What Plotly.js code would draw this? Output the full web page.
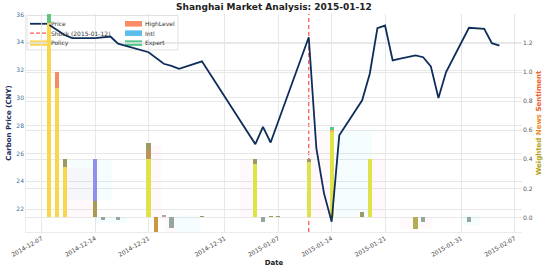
<!DOCTYPE html>
<html><head><meta charset="utf-8">
<script src="https://cdn.plot.ly/plotly-3.0.1.min.js"></script>
<style>html,body{margin:0;padding:0;background:#fff}#chart{width:550px;height:271px}</style>
</head><body><div id="chart"></div>
<script>
// ---------------- data ----------------
const priceDates = ['2014-12-09','2014-12-10','2014-12-11','2014-12-12','2014-12-15','2014-12-17','2014-12-18','2014-12-22','2014-12-24','2014-12-25','2014-12-26','2014-12-29','2015-01-05','2015-01-06','2015-01-07','2015-01-12','2015-01-13','2015-01-14','2015-01-15','2015-01-16','2015-01-19','2015-01-20','2015-01-21','2015-01-22','2015-01-23','2015-01-24','2015-01-25','2015-01-26','2015-01-27','2015-01-28','2015-01-29','2015-01-30','2015-02-02','2015-02-03','2015-02-04','2015-02-05','2015-02-06'];
const priceValues = [35.25,34.92,34.53,34.31,34.31,34.42,33.90,33.29,32.46,32.30,32.10,32.63,26.67,27.91,26.79,34.37,26.36,23.13,21.09,27.31,29.83,31.74,35.02,35.21,32.70,32.82,32.95,33.06,32.93,32.27,29.99,31.86,35.05,35.03,34.97,33.94,33.77];

const barDates = ['2014-12-09','2014-12-10','2014-12-11','2014-12-12','2014-12-15','2014-12-16','2014-12-17','2014-12-18','2014-12-22','2014-12-23','2014-12-24','2014-12-25','2014-12-29','2015-01-05','2015-01-06','2015-01-07','2015-01-08','2015-01-12','2015-01-15','2015-01-16','2015-01-19','2015-01-20','2015-01-21','2015-01-26','2015-01-27','2015-02-02'];
const policy    = [1.34,0.89,0.35,0,0,0,0,0,0.40,0,0,0,0,0.37,0,0,0,0.385,0.59,0,0,0.40,0,-0.08,0,0];
const highLevel = [0,0.11,0,0,0.11,0,0,0,0.07,-0.12,0,0,0,0,0,0,0,0,0.01,0,0,0,0,0,0,0];
const intl      = [0,0,0,0,0.29,0,0,0,0,0,0.02,0,0,0,0,0,0,0,0,0,0,0,0,0,0,0];
const expert    = [0.08,0,0.05,0.004,0,-0.02,0.005,-0.015,0.04,0,0,-0.07,0.01,0.03,-0.03,0.01,0.01,0.015,0.02,0.004,0.035,0,0.005,0,-0.03,-0.03];

// faint event-window shading (sentiment ranges)
const windowStart = ['2014-12-11T07:00','2014-12-11T01:00','2014-12-14T23:00','2014-12-21T22:00','2014-12-24T04:00','2014-12-25T18:00','2015-01-03T00:00','2015-01-12T04:00','2015-01-15T11:00','2015-01-20T07:00','2015-01-23T23:00','2015-02-01T02:00'];
const windowEnd   = ['2014-12-17T04:00','2014-12-15T06:00','2014-12-19T04:00','2014-12-23T18:00','2014-12-25T18:00','2014-12-28T18:00','2015-01-05T02:00','2015-01-14T19:00','2015-01-20T07:00','2015-01-22T00:00','2015-01-28T04:00','2015-02-03T11:00'];
const windowLow   = [0.12,0,-0.04,0,-0.1,-0.1,0,0,0,0,-0.08,-0.05];
const windowHigh  = [0.395,0.34,0,0.5,0,0.02,0.4,0.59,0.6,0.4,0,0.02];
const windowKind  = ['Intl','HighLevel','Intl','HighLevel','HighLevel','Intl','HighLevel','HighLevel','Intl','HighLevel','HighLevel','Intl'];

const shockDate = '2015-01-12';
const tickDates = ['2014-12-08','2014-12-15','2014-12-22','2015-01-01','2015-01-08','2015-01-15','2015-01-22','2015-02-01','2015-02-08'];
const tickLabels = ['2014-12-07','2014-12-14','2014-12-21','2014-12-31','2015-01-07','2015-01-14','2015-01-21','2015-01-31','2015-02-07'];
const priceTicks = [22,24,26,28,30,32,34,36];
const sentTicks = [0,0.2,0.4,0.6,0.8,1.0,1.2];
const legendLabels = [['Price','Shock (2015-01-12)','Policy'],['HighLevel','Intl','Expert']];

// ---------------- styles ----------------
const FONT = 'DejaVu Sans';
const policyTint = barDates.map((d,i)=> i<3 ? '#f8d64e' : (policy[i]<0 ? '#b3ad58' : '#dfe34a'));
const highTint = {1:'#f58d62',4:'#a89a55',8:'#b9935a',9:'#c89848',18:'#f5b050'};
const intlTint = {4:'#8e90ea',10:'#b4a4b4'};
const expertTint = barDates.map((d,i)=> i===0 ? '#5ec77a' : (i===18 ? '#52c98a' : (expert[i]<0 ? '#93a89c' : '#9a9a62')));
const BARW = 0.55*86400000;
const toMs = s => new Date(s+':00Z').getTime();

const PL=26, PR=522, PT=13.5, PB=232, W=550, H=271;
const fx = px => (px-PL)/(PR-PL);
const fy = py => (PB-py)/(PB-PT);

function barTrace(name, vals, colors){
  return {type:'bar', name, x:barDates, y:vals, width:BARW, yaxis:'y', xaxis:'x',
    marker:{color:colors, line:{width:0}}, showlegend:false, hoverinfo:'skip'};
}

const traces = [];
// shading windows
traces.push({type:'bar', x:windowStart.map((s,i)=>(toMs(s)+toMs(windowEnd[i]))/2),
  width:windowStart.map((s,i)=>toMs(windowEnd[i])-toMs(s)),
  base:windowLow, y:windowHigh.map((h,i)=>h-windowLow[i]),
  marker:{color:windowKind.map(k=>k==='Intl'?'rgba(70,225,230,0.05)':'rgba(255,120,170,0.045)'), line:{width:0}},
  showlegend:false, hoverinfo:'skip', yaxis:'y'});
traces.push(barTrace('Policy', policy, policyTint));
traces.push(barTrace('HighLevel', highLevel, barDates.map((d,i)=>highTint[i]||'#f58d62')));
traces.push(barTrace('Intl', intl, barDates.map((d,i)=>intlTint[i]||'#5cbdec')));
traces.push(barTrace('Expert', expert, expertTint));
traces.push({type:'scatter', mode:'lines', name:'Price', x:priceDates, y:priceValues, yaxis:'y2',
  line:{color:'#0f2d5a', width:1.8}, showlegend:false, hoverinfo:'skip'});

// manual legend (drawn behind the marks, like the reference)
const shapes = [
  {type:'line', xref:'x', yref:'paper', x0:shockDate, x1:shockDate, y0:0, y1:1, layer:'between',
   line:{color:'#ff5a5a', width:1.3, dash:'4px,3px'}},
  {type:'rect', xref:'paper', yref:'paper', x0:fx(27), x1:fx(178), y0:fy(15), y1:fy(49.5), layer:'between',
   fillcolor:'rgba(255,255,255,0.82)', line:{color:'#d9d9d9', width:0.8}},
];
const rows = [23.3, 32.7, 42.7];
shapes.push({type:'line', xref:'paper', yref:'paper', x0:fx(30), x1:fx(48), y0:fy(rows[0]), y1:fy(rows[0]), layer:'between', line:{color:'#0f2d5a', width:1.8}});
shapes.push({type:'line', xref:'paper', yref:'paper', x0:fx(30), x1:fx(48), y0:fy(rows[1]), y1:fy(rows[1]), layer:'between', line:{color:'#ff5a5a', width:1.2, dash:'4px,2px'}});
const swatch = (x0,x1,row,c)=>({type:'rect', xref:'paper', yref:'paper', x0:fx(x0), x1:fx(x1), y0:fy(row+2.8), y1:fy(row-2.8), layer:'between', fillcolor:c, line:{width:0}});
shapes.push(swatch(30,47,rows[2],'#fbd85c'));
shapes.push(swatch(125,142,rows[0],'#f98c66'));
shapes.push(swatch(125,142,rows[1],'#5cbdec'));
shapes.push(swatch(125,142,rows[2],'#52c98a'));

const annotations = [];
legendLabels.forEach((col,ci)=>col.forEach((t,ri)=>annotations.push({
  text:t, xref:'paper', yref:'paper', x:fx(ci===0?49.5:143.5), y:fy(rows[ri]), xanchor:'left', yanchor:'middle',
  showarrow:false, borderpad:0, font:{family:FONT, size:6, color:'#333'}})));

const layout = {
  width:W, height:H, margin:{l:PL, r:W-PR, t:PT, b:H-PB, pad:0},
  paper_bgcolor:'#fff', plot_bgcolor:'#fff', barmode:'relative', bargap:0,
  showlegend:false, hovermode:false,
  font:{family:FONT, size:6, color:'#333'},
  title:{text:'<b>Shanghai Market Analysis: 2015-01-12</b>', font:{family:FONT, size:9, color:'#222'},
    x:0.5, xref:'paper', xanchor:'center', y:1-6.5/H, yref:'container', yanchor:'middle'},
  xaxis:{type:'date', range:['2014-12-05T22:30','2015-02-08T22:50'], tickvals:tickDates, ticktext:tickLabels,
    tickangle:-30, tickfont:{family:FONT, size:6, color:'#444'}, showgrid:true, gridcolor:'#e2e2e2', gridwidth:0.8,
    zeroline:false, showline:true, linecolor:'#e6e6e6', linewidth:0.8, ticks:'',
    title:{text:'<b>Date</b>', font:{family:FONT, size:7, color:'#222'}, standoff:3}},
  yaxis:{range:[-0.1,1.4], side:'right', tickvals:sentTicks, tickformat:'.1f', showgrid:true, gridcolor:'#e2e2e2', gridwidth:0.8,
    zeroline:false, ticks:'', tickfont:{family:FONT, size:6, color:'#555'},
    title:{text:'<b><span style="color:#b5a21a">Weighted</span> <span style="color:#ee8a2a">News</span> <span style="color:#f0602a">Sentiment</span></b>',
      font:{family:FONT, size:7}, standoff:4}},
  yaxis2:{range:[20.35,36.04], overlaying:'y', side:'left', tickvals:priceTicks, showgrid:true, gridcolor:'#e2e2e2', gridwidth:0.8,
    zeroline:false, ticks:'', showline:true, linecolor:'#e6e6e6', linewidth:0.8,
    tickfont:{family:FONT, size:6, color:'#3f6f9f'},
    title:{text:'<b>Carbon Price (CNY)</b>', font:{family:FONT, size:7, color:'#1c2d5e'}, standoff:3}},
  shapes, annotations
};

Plotly.newPlot('chart', traces, layout, {staticPlot:true, displayModeBar:false});
</script>
</body></html>
